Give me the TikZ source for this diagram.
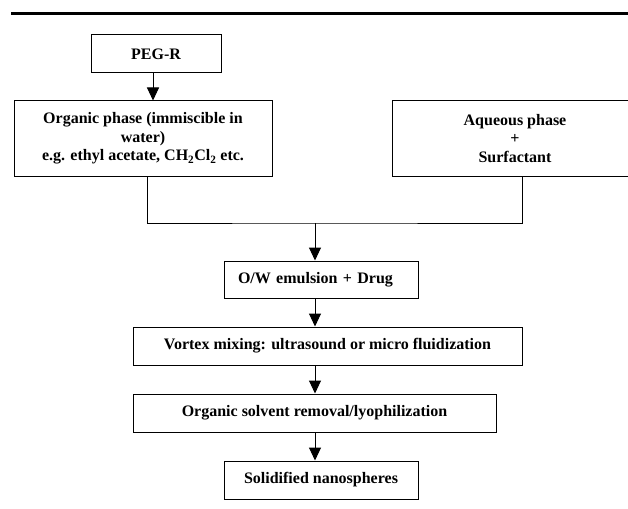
\documentclass[tikz,border=0pt]{standalone}
\usepackage{fontspec}
\setmainfont{Liberation Serif}
\usetikzlibrary{arrows.meta,positioning}

\tikzset{
  box/.style = {draw, line width=1pt, align=center, inner sep=0pt,
    font=\bfseries\fontsize{16}{18.5}\selectfont},
  flow/.style = {line width=1pt}
}

\begin{document}
\begin{tikzpicture}[x=1pt,y=-1pt,
  >={Triangle[length=13pt,width=12pt]},
  node distance = 28pt]
  \useasboundingbox (0,0) rectangle (628,508);
  \draw[line width=2.6pt] (11,13.5) -- (640,13.5);
  % inputs
  \node[box,minimum width=130pt,minimum height=38pt] (peg) at (156,54) {PEG-R};
  \node[box,minimum width=258pt,minimum height=75pt] (org) at (143,138.5)
    {Organic phase (immiscible in\\water)\\e.g. ethyl acetate, CH\textsubscript{2}Cl\textsubscript{2} etc.};
  \node[box,minimum width=246pt,minimum height=75pt] (aq) at (515,138.5)
    {Aqueous phase\\+\\Surfactant};
  \coordinate (join) at (315,223);
  % steps
  \node[box,text width=166pt,inner xsep=14pt,align=left,minimum height=37pt]
    (ow) at (321,279.5) {O/W emulsion + Drug};
  \node[box,minimum width=389pt,minimum height=38pt] (vortex)
    [below=of ow,xshift=6.5pt] {Vortex mixing: ultrasound or micro fluidization};
  \node[box,minimum width=363pt,minimum height=38pt] (solvent)
    [below=of vortex,xshift=-13pt] {Organic solvent removal/lyophilization};
  \node[box,minimum width=194pt,minimum height=38pt] (solid)
    [below=of solvent,xshift=6.5pt] {Solidified nanospheres};
  % connectors
  \draw[flow,->] ([xshift=-3pt]peg.south) -- ([xshift=-3pt]peg.south |- org.north);
  \draw[flow] ([xshift=4pt]org.south) |- (join) -| ([xshift=7pt]aq.south);
  \draw[flow,->] (join) -- (join |- ow.north);
  \draw[flow,->] (join |- ow.south) -- (join |- vortex.north);
  \draw[flow,->] (join |- vortex.south) -- (join |- solvent.north);
  \draw[flow,->] (join |- solvent.south) -- (join |- solid.north);
\end{tikzpicture}
\end{document}
